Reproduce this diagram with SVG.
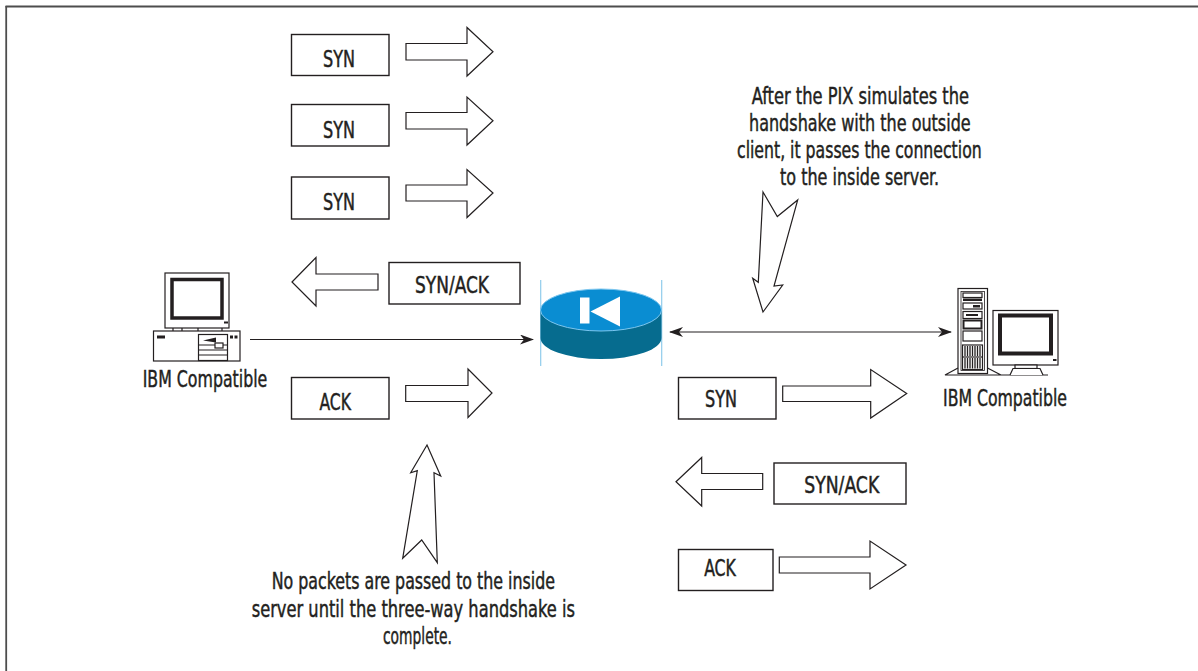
<svg xmlns="http://www.w3.org/2000/svg" width="1198" height="671" viewBox="0 0 1198 671">
  <style>
    .lbl { font-family: "DejaVu Sans Condensed", "DejaVu Sans", "Liberation Sans", sans-serif; font-stretch: condensed; font-size: 23px; fill: #231f20; stroke: #231f20; stroke-width: 0.45; }
    .box { fill: #ffffff; stroke: #231f20; stroke-width: 1.4; }
    .blk { fill: #ffffff; stroke: #231f20; stroke-width: 1.2; stroke-linejoin: miter; }
    .ln { stroke: #231f20; stroke-width: 1.2; fill: none; }
    .dev { stroke: #231f20; stroke-width: 1.2; fill: #ffffff; }
    .ink { fill: #231f20; }
  </style>
  <defs>
    <marker id="barb" viewBox="0 0 14 10" refX="13" refY="5" markerWidth="14" markerHeight="10" markerUnits="userSpaceOnUse" orient="auto-start-reverse">
      <path d="M0,0 L14,5 L0,10 L4,5 Z" fill="#231f20"/>
    </marker>
  </defs>

  <!-- frame edge -->
  <g id="frame">
    <line x1="5.5" y1="6.5" x2="1198" y2="6.5" stroke="#4d4d4d" stroke-width="1.8"/>
    <line x1="6.2" y1="6" x2="6.2" y2="671" stroke="#4d4d4d" stroke-width="1.8"/>
  </g>

  <!-- links between the hosts and the firewall -->
  <g id="connectors">
    <line class="ln" x1="250" y1="339.5" x2="533" y2="339.5" marker-end="url(#barb)"/>
    <line class="ln" x1="670" y1="332" x2="951" y2="332" marker-start="url(#barb)" marker-end="url(#barb)"/>
  </g>

  <!-- outside client -->
  <g id="client">
    <rect class="dev" x="165" y="273" width="64" height="55"/>
    <rect x="172" y="279.5" width="50" height="38.5" fill="none" stroke="#231f20" stroke-width="3.5"/>
    <rect class="ink" x="224" y="321.5" width="4" height="2"/>
    <path class="ln" d="M173,328 V331 M182,328 V331 M198,328 V331 M222,328 V331"/>
    <rect class="dev" x="153.5" y="331" width="86.5" height="30"/>
    <rect class="ink" x="157" y="335.5" width="8" height="3"/>
    <rect class="dev" x="198.5" y="334.5" width="29" height="26"/>
    <path class="ln" d="M198.5,345 H227.5 M198.5,350 H227.5 M198.5,355 H227.5"/>
    <polygon class="ink" points="203,340.5 216,337.5 216,342.5"/>
    <rect class="dev" x="215" y="343" width="8" height="5"/>
    <rect class="ink" x="230" y="335.5" width="3" height="3"/>
    <rect class="ink" x="234.5" y="335.5" width="3" height="3"/>
    <text class="lbl" x="142.7" y="386.7" textLength="124.6" lengthAdjust="spacingAndGlyphs">IBM Compatible</text>
  </g>

  <!-- PIX firewall -->
  <g id="pix">
    <line x1="540.7" y1="280" x2="540.7" y2="366" stroke="#8fcbeb" stroke-width="1.2"/>
    <line x1="661.7" y1="280" x2="661.7" y2="366" stroke="#8fcbeb" stroke-width="1.2"/>
    <path d="M540.5,310 L540.5,338 A60.5,21 0 0 0 661.5,338 L661.5,310 Z" fill="#066c8f"/>
    <ellipse cx="601" cy="310" rx="60.5" ry="21" fill="#0a8dd2" stroke="#7cc6ef" stroke-width="1"/>
    <rect x="580" y="297.5" width="9.5" height="26" fill="#ffffff"/>
    <polygon points="590.5,311.5 620,296.5 620,326.5" fill="#ffffff"/>
  </g>

  <!-- inside server -->
  <g id="server">
    <rect class="dev" x="958" y="288.5" width="29.5" height="85"/>
    <rect x="961" y="291.5" width="23.5" height="79" fill="none" stroke="#231f20" stroke-width="0.8"/>
    <rect class="dev" x="963" y="293" width="19" height="4.5"/>
    <rect class="ink" x="963" y="298.5" width="19" height="2.5"/>
    <rect class="dev" x="963" y="303" width="19" height="6"/>
    <rect class="ink" x="973" y="305" width="7" height="2.5"/>
    <rect class="dev" x="963" y="311.5" width="19" height="7"/>
    <rect class="ink" x="966" y="314" width="12" height="2"/>
    <rect x="963.5" y="320.5" width="18" height="8" fill="#ffffff" stroke="#231f20" stroke-width="2"/>
    <rect class="dev" x="963" y="331" width="19" height="10"/>
    <rect class="dev" x="962.5" y="345" width="20" height="24.5"/>
    <path d="M962.5,357 H982.5" class="ln"/>
    <path d="M965,346 V356 M967.5,346 V356 M970,346 V356 M972.5,346 V356 M975,346 V356 M977.5,346 V356 M980,346 V356 M965,358 V368.5 M967.5,358 V368.5 M970,358 V368.5 M972.5,358 V368.5 M975,358 V368.5 M977.5,358 V368.5 M980,358 V368.5" stroke="#231f20" stroke-width="1.3"/>
    <path class="ln" d="M958,368 L945,375 H1048 M987.5,368 L1001,375"/>
    <rect class="dev" x="993" y="310.5" width="65" height="54.5"/>
    <rect x="1000" y="315.5" width="51" height="38" fill="none" stroke="#231f20" stroke-width="4"/>
    <rect class="ink" x="1053" y="359" width="3.5" height="2"/>
    <rect class="dev" x="1015" y="365" width="22" height="3.5"/>
    <path class="dev" d="M1010,375 L1013,368.5 H1040 L1043,375"/>
    <text class="lbl" x="943" y="406" textLength="124" lengthAdjust="spacingAndGlyphs">IBM Compatible</text>
  </g>

  <!-- outside handshake, client side -->
  <g id="syn-1">
    <rect class="box" x="291.5" y="34.5" width="97.5" height="41"/>
    <text class="lbl" x="323" y="66.5" textLength="32" lengthAdjust="spacingAndGlyphs">SYN</text>
    <polygon class="blk" points="406,43.5 467,43.5 467,27.5 493,51.7 467,76 467,60 406,60"/>
  </g>
  <g id="syn-2">
    <rect class="box" x="291.5" y="104.5" width="97.5" height="41.5"/>
    <text class="lbl" x="323" y="138" textLength="32" lengthAdjust="spacingAndGlyphs">SYN</text>
    <polygon class="blk" points="406,112.5 467,112.5 467,97 493,120.7 467,145 467,129 406,129"/>
  </g>
  <g id="syn-3">
    <rect class="box" x="291.5" y="177" width="97.5" height="42"/>
    <text class="lbl" x="323" y="210" textLength="32" lengthAdjust="spacingAndGlyphs">SYN</text>
    <polygon class="blk" points="406,185 467,185 467,169.5 493,193 467,217.5 467,201 406,201"/>
  </g>
  <g id="synack-1">
    <rect class="box" x="389" y="262.5" width="131" height="41.5"/>
    <text class="lbl" x="415" y="292.5" textLength="74" lengthAdjust="spacingAndGlyphs">SYN/ACK</text>
    <polygon class="blk" points="292,282 316,257.5 316,274 378,274 378,290 316,290 316,306"/>
  </g>
  <g id="ack-1">
    <rect class="box" x="291.5" y="377.5" width="97.5" height="41.5"/>
    <text class="lbl" x="319.5" y="410" textLength="31.5" lengthAdjust="spacingAndGlyphs">ACK</text>
    <polygon class="blk" points="405.7,385.5 468,385.5 468,369 492,393 468,417.5 468,401.5 405.7,401.5"/>
  </g>

  <!-- inside handshake, server side -->
  <g id="syn-2nd">
    <rect class="box" x="678.5" y="377.5" width="97.5" height="41.5"/>
    <text class="lbl" x="705" y="406.5" textLength="32" lengthAdjust="spacingAndGlyphs">SYN</text>
    <polygon class="blk" points="782.7,386 870.7,386 870.7,369.5 906.7,393.5 870.7,418 870.7,401.5 782.7,401.5"/>
  </g>
  <g id="synack-2nd">
    <rect class="box" x="774" y="463" width="132" height="41"/>
    <text class="lbl" x="804.2" y="492.5" textLength="75" lengthAdjust="spacingAndGlyphs">SYN/ACK</text>
    <polygon class="blk" points="676,481.7 701.7,457.5 701.7,473.5 762.7,473.5 762.7,489.5 701.7,489.5 701.7,506"/>
  </g>
  <g id="ack-2nd">
    <rect class="box" x="678.5" y="549.5" width="94.5" height="41"/>
    <text class="lbl" x="704.2" y="576" textLength="31.7" lengthAdjust="spacingAndGlyphs">ACK</text>
    <polygon class="blk" points="779.3,557 870,557 870,541 906,565 870,589 870,573 779.3,573"/>
  </g>

  <!-- callout: PIX hands the connection over -->
  <g id="note-handoff">
    <text class="lbl" x="751.7" y="103.5" textLength="217.3" lengthAdjust="spacingAndGlyphs">After the PIX simulates the</text>
    <text class="lbl" x="749" y="130.5" textLength="221.7" lengthAdjust="spacingAndGlyphs">handshake with the outside</text>
    <text class="lbl" x="737" y="157.5" textLength="244.7" lengthAdjust="spacingAndGlyphs">client, it passes the connection</text>
    <text class="lbl" x="780" y="184.5" textLength="159" lengthAdjust="spacingAndGlyphs">to the inside server.</text>
    <polygon class="blk" points="763,192 777.3,216.5 797.7,200 774,286 782.7,285 763,312 752.7,278.3 758.3,282.3"/>
  </g>

  <!-- callout: nothing passes until handshake completes -->
  <g id="note-hold">
    <polygon class="blk" points="427,445 440.7,476 434,472.7 437.3,562.7 421.7,540 402.7,558.3 417.3,470.7 410.7,472.7"/>
    <text class="lbl" x="271.7" y="589" textLength="283.3" lengthAdjust="spacingAndGlyphs">No packets are passed to the inside</text>
    <text class="lbl" x="251.7" y="616.5" textLength="323.3" lengthAdjust="spacingAndGlyphs">server until the three-way handshake is</text>
    <text class="lbl" x="383" y="644" textLength="69" lengthAdjust="spacingAndGlyphs">complete.</text>
  </g>
</svg>
